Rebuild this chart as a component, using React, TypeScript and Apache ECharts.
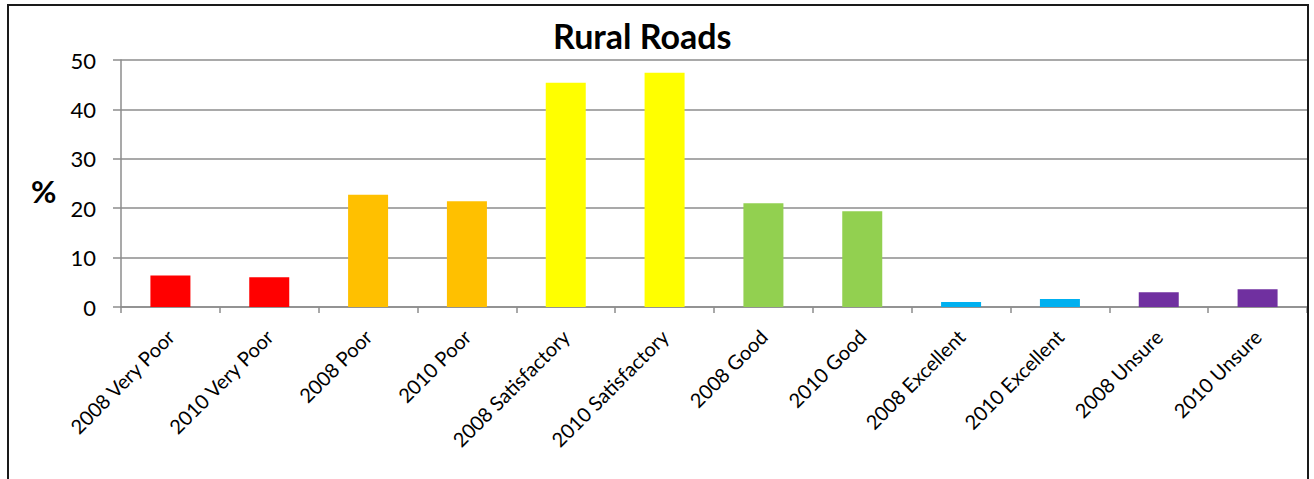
import React, { useEffect, useRef } from "react";
import * as echarts from "echarts";

const categories = [
  "2008 Very Poor",
  "2010 Very Poor",
  "2008 Poor",
  "2010 Poor",
  "2008 Satisfactory",
  "2010 Satisfactory",
  "2008 Good",
  "2010 Good",
  "2008 Excellent",
  "2010 Excellent",
  "2008 Unsure",
  "2010 Unsure",
];
const values = [6.4, 6.0, 22.7, 21.4, 45.4, 47.4, 21.0, 19.4, 1.0, 1.6, 3.0, 3.6];
const barColors = [
  "#FF0000", "#FF0000",
  "#FFC000", "#FFC000",
  "#FFFF00", "#FFFF00",
  "#92D050", "#92D050",
  "#00B0F0", "#00B0F0",
  "#7030A0", "#7030A0",
];
const titleText = "Rural Roads";
const yAxisName = "%";

const FONT = "Lato, 'Open Sans', sans-serif";

export default function App() {
  const ref = useRef<HTMLDivElement>(null);
  useEffect(() => {
    if (!ref.current) return;
    const chart = echarts.init(ref.current, null, { renderer: "svg" });
    chart.setOption({
      animation: false,
      backgroundColor: "#ffffff",
      textStyle: { fontFamily: FONT },
      title: {
        text: titleText,
        left: 548,
        top: 13,
        textStyle: { fontFamily: FONT, fontSize: 34, fontWeight: "bold", color: "#000" },
      },
      graphic: [
        {
          type: "rect",
          shape: { x: 8, y: 5, width: 1300, height: 500 },
          style: { fill: "none", stroke: "#1a1a1a", lineWidth: 2 },
          z: 100,
        },
        {
          type: "text",
          left: 31,
          top: 175,
          style: { text: yAxisName, font: `bold 31px ${FONT}`, fill: "#000" },
        },
      ],
      grid: { left: 121, right: 7, top: 60, bottom: 172, containLabel: false },
      xAxis: {
        type: "category",
        data: categories,
        axisLine: { lineStyle: { color: "#8c8c8c", width: 1.5 } },
        axisTick: { show: true, length: 6, alignWithLabel: false, lineStyle: { color: "#8c8c8c", width: 1.5 } },
        axisLabel: {
          rotate: 45,
          interval: 0,
          margin: 26,
          fontSize: 20,
          color: "#000",
          fontFamily: FONT,
        },
      },
      yAxis: {
        type: "value",
        min: 0,
        max: 50,
        interval: 10,
        axisLine: { show: true, lineStyle: { color: "#8c8c8c", width: 1.5 } },
        axisTick: { show: true, length: 8, lineStyle: { color: "#8c8c8c", width: 1.5 } },
        splitLine: { lineStyle: { color: "#8c8c8c", width: 1.5 } },
        axisLabel: { fontSize: 22, color: "#000", margin: 25, fontFamily: FONT },
      },
      series: [
        {
          type: "bar",
          barWidth: 40,
          data: values.map((v, i) => ({ value: v, itemStyle: { color: barColors[i] } })),
        },
      ],
    });
    return () => chart.dispose();
  }, []);
  return (
    <div
      ref={ref}
      style={{ position: "fixed", left: 0, top: 0, width: 1314, height: 479 }}
    />
  );
}
